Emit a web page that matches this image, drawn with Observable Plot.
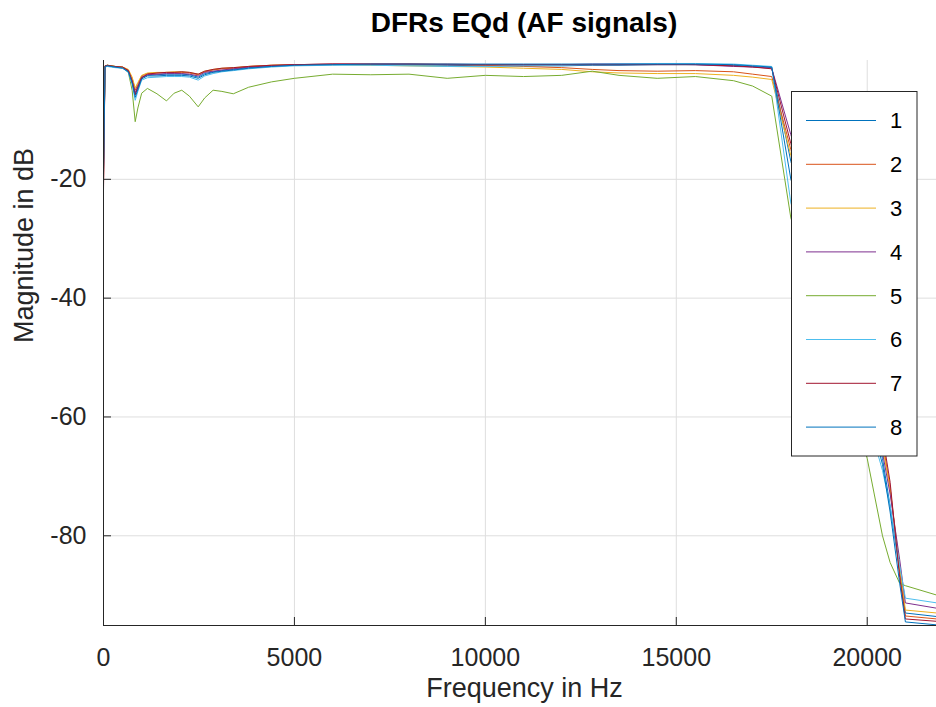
<!DOCTYPE html>
<html><head><meta charset="utf-8">
<script src="https://cdn.jsdelivr.net/npm/d3@7"></script>
<script src="https://cdn.jsdelivr.net/npm/@observablehq/plot@0.6"></script>
<style>
html,body{margin:0;padding:0;background:#fff;overflow:hidden;width:936px;height:707px;}
#wrap{position:relative;width:936px;height:707px;overflow:hidden;font-family:"Liberation Sans",Arial,sans-serif;}
#title{position:absolute;left:103px;width:842px;top:0;height:45px;text-align:center;font-weight:bold;font-size:28px;line-height:28px;padding-top:9px;box-sizing:border-box;color:#000;}
#chart{position:absolute;left:0;top:45px;width:945px;}
#legend{position:absolute;left:791px;top:91px;}
</style></head><body>
<div id="wrap"><div id="title">DFRs EQd (AF signals)</div><div id="chart"></div><svg id="legend"></svg></div>
<script>
const freqs = [0, 40, 100, 300, 500, 650, 750, 830, 900, 1000, 1150, 1400, 1650, 1850, 2050, 2250, 2480, 2650, 2870, 3100, 3400, 3800, 4400, 5000, 6000, 7000, 8000, 9000, 10000, 11000, 12000, 12800, 13500, 14500, 15500, 16500, 17000, 17500, 18000, 19000, 20000, 20400, 20600, 20850, 21000, 21830];
const s1 = [-18, -1.0, -0.9, -1.1, -1.2, -1.8, -3.5, -5.6, -4.5, -2.9, -2.5, -2.4, -2.3, -2.3, -2.3, -2.4, -2.8, -2.2, -1.9, -1.7, -1.5, -1.2, -1.0, -0.8, -0.7, -0.7, -0.8, -0.8, -0.9, -0.9, -0.9, -0.8, -0.8, -0.7, -0.7, -0.8, -1.0, -1.2, -17, -37, -56, -67, -75, -86, -93, -93.6];
const s2 = [-21, -0.9, -0.8, -1.0, -1.1, -1.6, -3.0, -5.0, -4.0, -2.6, -2.2, -2.1, -2.0, -2.0, -2.0, -2.1, -2.4, -1.9, -1.6, -1.4, -1.3, -1.0, -0.8, -0.7, -0.6, -0.6, -0.6, -0.7, -0.8, -1.0, -1.2, -1.5, -1.7, -1.8, -1.7, -1.9, -2.3, -2.7, -15, -35, -53, -64, -72, -86, -93.5, -94];
const s3 = [-19, -0.9, -0.8, -1.0, -1.1, -1.5, -2.8, -4.6, -3.7, -2.5, -2.1, -2.0, -2.0, -1.9, -1.9, -2.0, -2.3, -1.8, -1.5, -1.3, -1.2, -1.0, -0.8, -0.7, -0.7, -0.8, -0.9, -1.0, -1.1, -1.3, -1.5, -1.9, -2.1, -2.2, -2.2, -2.5, -2.8, -3.2, -16, -35, -54, -65, -72, -85, -92.5, -93];
const s4 = [-20, -1.0, -0.9, -1.1, -1.2, -1.7, -3.4, -5.4, -4.3, -2.8, -2.4, -2.3, -2.2, -2.2, -2.2, -2.3, -2.6, -2.0, -1.8, -1.6, -1.4, -1.1, -0.9, -0.7, -0.6, -0.6, -0.6, -0.7, -0.7, -0.7, -0.7, -0.6, -0.6, -0.6, -0.7, -1.0, -1.1, -1.3, -12.5, -33, -54, -66, -73, -84, -91.3, -92.2];
const s5 = [-17, -1.0, -0.8, -1.0, -1.2, -2.0, -5.0, -10.3, -8.0, -5.5, -4.7, -5.6, -6.8, -5.5, -5.0, -6.0, -7.8, -6.3, -5.0, -5.2, -5.6, -4.5, -3.6, -3.0, -2.3, -2.4, -2.3, -3.0, -2.5, -2.7, -2.5, -1.8, -2.5, -3.0, -2.7, -3.4, -4.3, -6.0, -26.5, -46, -67, -80, -84.5, -88, -88.4, -90];
const s6 = [-18, -1.1, -1.0, -1.2, -1.3, -2.0, -4.0, -6.7, -5.2, -3.3, -2.9, -2.8, -2.7, -2.7, -2.7, -2.8, -3.3, -2.6, -2.2, -1.9, -1.7, -1.4, -1.1, -0.9, -0.8, -0.8, -0.9, -1.0, -1.0, -0.9, -0.8, -0.7, -0.6, -0.5, -0.5, -0.6, -0.8, -1.0, -24, -42, -60, -69, -75, -85, -90.5, -91.3];
const s7 = [-22, -0.9, -0.8, -1.0, -1.1, -1.7, -3.5, -5.8, -4.6, -2.9, -2.3, -2.1, -2.0, -2.0, -1.9, -2.0, -2.3, -1.8, -1.5, -1.3, -1.2, -1.0, -0.8, -0.7, -0.6, -0.6, -0.6, -0.6, -0.7, -0.7, -0.7, -0.7, -0.7, -0.7, -0.7, -0.9, -1.1, -1.4, -14, -34, -52, -63, -71, -87, -94, -94.4];
const s8 = [-19, -1.0, -0.9, -1.1, -1.3, -1.9, -3.8, -6.2, -4.9, -3.1, -2.6, -2.6, -2.5, -2.5, -2.5, -2.6, -3.0, -2.4, -2.0, -1.8, -1.6, -1.3, -1.0, -0.8, -0.7, -0.6, -0.6, -0.6, -0.6, -0.6, -0.6, -0.6, -0.6, -0.6, -0.6, -0.7, -0.9, -1.1, -20, -39, -58, -68, -76, -88, -94.5, -95];
const seriesNames = ["1", "2", "3", "4", "5", "6", "7", "8"];
const seriesColors = ["#0072BD", "#D95319", "#EDB120", "#7E2F8E", "#77AC30", "#4DBEEE", "#A2142F", "#0072BD"];
const xTicks = [0, 5000, 10000, 15000, 20000];
const yTicks = [-80, -60, -40, -20];
const xDomain = [0, 22050];
const yDomain = [-95.1, 0];

const seriesValues = [s1, s2, s3, s4, s5, s6, s7, s8];
const rows = seriesNames.flatMap((name, i) => freqs.map((f, j) => ({series: name, freq: f, db: seriesValues[i][j]})));

const axisColor = "#262626";
const chart = Plot.plot({
  width: 945, height: 662,
  marginTop: 15, marginBottom: 82, marginLeft: 103, marginRight: 0,
  style: {fontFamily: "'Liberation Sans', Arial, sans-serif", background: "#fff", maxWidth: "none", overflow: "visible"},
  x: {domain: xDomain},
  y: {domain: yDomain},
  color: {domain: seriesNames, range: seriesColors},
  marks: [
    Plot.gridX(xTicks, {stroke: "#dedede", strokeOpacity: 1}),
    Plot.gridY(yTicks, {stroke: "#dedede", strokeOpacity: 1}),
    Plot.line(rows, {x: "freq", y: "db", z: "series", stroke: "series", strokeWidth: 1}),
    Plot.ruleX([xDomain[0]], {stroke: axisColor}),
    Plot.ruleY([yDomain[0]], {stroke: axisColor}),
    Plot.axisX(xTicks, {tickSize: 0, tickPadding: 23, fontSize: 25, fill: axisColor, label: null, tickFormat: d => String(d)}),
    Plot.axisY(yTicks, {tickSize: 0, tickPadding: 17, fontSize: 25, fill: axisColor, label: null, tickFormat: d => String(d)}),
    Plot.axisX(xTicks, {tickSize: -8, stroke: axisColor, label: null, tickFormat: () => ""}),
    Plot.axisY(yTicks, {tickSize: -8, stroke: axisColor, label: null, tickFormat: () => ""}),
    Plot.text(["Frequency in Hz"], {frameAnchor: "bottom", dy: 71, fontSize: 27, fill: axisColor}),
    Plot.text(["Magnitude in dB"], {frameAnchor: "left", rotate: -90, dx: -79, fontSize: 27, fill: axisColor})
  ]
});
document.getElementById("chart").appendChild(chart);

// legend box
const leg = d3.select("#legend").attr("width", 127).attr("height", 366);
leg.append("rect").attr("x", 0.5).attr("y", 0.5).attr("width", 125.5).attr("height", 364.5)
  .attr("fill", "#fff").attr("stroke", axisColor).attr("stroke-width", 1);
seriesNames.forEach((name, i) => {
  const cy = 29.5 + i * 43.8;
  leg.append("line").attr("x1", 15).attr("x2", 85).attr("y1", cy).attr("y2", cy)
    .attr("stroke", seriesColors[i]).attr("stroke-width", 1);
  leg.append("text").attr("x", 99).attr("y", cy).attr("dy", "0.36em")
    .attr("font-family", "'Liberation Sans', Arial, sans-serif").attr("font-size", 22).attr("fill", "#000").text(name);
});
</script>
</body></html>
